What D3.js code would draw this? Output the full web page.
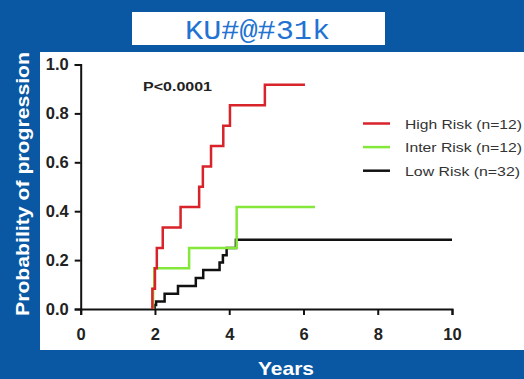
<!DOCTYPE html>
<html>
<head>
<meta charset="utf-8">
<script src="https://cdn.jsdelivr.net/npm/d3@7"></script>
<style>
  body { margin: 0; background: #0a58a3; }
  svg { display: block; }
</style>
</head>
<body>
<div id="chart"></div>
<script>
// step curves: [years, probability]
const highRisk = [[1.93, 0], [1.93, 0.083], [2.0, 0.167], [2.05, 0.25], [2.21, 0.333], [2.69, 0.417],
  [3.19, 0.5], [3.29, 0.583], [3.51, 0.667], [3.84, 0.75], [4.02, 0.833], [4.96, 0.917], [6.04, 0.917]]
const interRisk = [[1.95, 0], [1.95, 0.083], [1.98, 0.167], [2.92, 0.25], [4.2, 0.417], [6.31, 0.417]]
const lowRisk = [[1.99, 0], [1.99, 0.016], [2.03, 0.031], [2.26, 0.0625], [2.62, 0.094], [3.1, 0.127],
  [3.3, 0.16], [3.74, 0.19], [3.83, 0.22], [3.93, 0.25], [4.18, 0.283], [10, 0.283]]

const seriesNames = ['High Risk (n=12)', 'Inter Risk (n=12)', 'Low Risk (n=32)']
const seriesColors = ['#d8232a', '#84e83a', '#111111']
const xTicks = [0, 2, 4, 6, 8, 10]
const yTicks = [0, 0.2, 0.4, 0.6, 0.8, 1.0]

const width = 524
const height = 379
const font = 'Liberation Sans, Arial, sans-serif'

const svg = d3
  .select('#chart')
  .append('svg')
  .attr('width', width)
  .attr('height', height)

svg.append('rect')
  .attr('width', width)
  .attr('height', height)
  .attr('fill', '#0a58a3')

// white plot panel
svg.append('rect')
  .attr('x', 40)
  .attr('y', 52)
  .attr('width', 484)
  .attr('height', 298)
  .attr('fill', 'white')

// title box
svg.append('rect')
  .attr('x', 132)
  .attr('y', 12)
  .attr('width', 253)
  .attr('height', 33)
  .attr('fill', 'white')

svg.append('text')
  .attr('x', 185)
  .attr('y', 39)
  .attr('font-family', 'Liberation Mono, monospace')
  .attr('font-size', 28)
  .attr('textLength', 145)
  .attr('lengthAdjust', 'spacingAndGlyphs')
  .attr('fill', '#2272d2')
  .text('KU#@#31k')

const x = d3.scaleLinear().domain([0, 10]).range([80.7, 452])
const y = d3.scaleLinear().domain([0, 1]).range([309, 64.5])

const xAxis = svg.append('g')
  .attr('transform', 'translate(0,309)')
  .call(d3.axisBottom(x).tickValues(xTicks).tickSize(6).tickPadding(13).tickSizeOuter(6))
const yAxis = svg.append('g')
  .attr('transform', 'translate(80.7,0)')
  .call(d3.axisLeft(y).tickValues(yTicks).tickFormat(d3.format('.1f')).tickSize(6).tickPadding(6).tickSizeOuter(6))

;[xAxis, yAxis].forEach(g => {
  g.selectAll('path, line').attr('stroke', '#111').attr('stroke-width', 2)
  g.selectAll('text')
    .attr('font-family', font)
    .attr('font-size', 16.5)
    .attr('font-weight', 'bold')
    .attr('fill', '#222')
})

const line = d3.line()
  .x(d => x(d[0]))
  .y(d => y(d[1]))
  .curve(d3.curveStepAfter)

// draw curves (low first so red stays on top)
const allSeries = [highRisk, interRisk, lowRisk]
;[2, 1, 0].forEach(i => {
  svg.append('path')
    .datum(allSeries[i])
    .attr('d', line)
    .attr('fill', 'none')
    .attr('stroke', seriesColors[i])
    .attr('stroke-width', 2.5)
})

svg.append('text')
  .attr('x', 143)
  .attr('y', 90.5)
  .attr('font-family', font)
  .attr('font-size', 13)
  .attr('font-weight', 'bold')
  .attr('textLength', 69)
  .attr('lengthAdjust', 'spacingAndGlyphs')
  .attr('fill', '#222')
  .text('P<0.0001')

// legend
const legendWidths = [117, 117, 115]
seriesNames.forEach((name, i) => {
  const ly = 123.5 + i * 23.6
  svg.append('line')
    .attr('x1', 363)
    .attr('x2', 390)
    .attr('y1', ly)
    .attr('y2', ly)
    .attr('stroke', seriesColors[i])
    .attr('stroke-width', 2.5)
  svg.append('text')
    .attr('x', 405)
    .attr('y', ly + 5)
    .attr('font-family', font)
    .attr('font-size', 13.5)
    .attr('textLength', legendWidths[i])
    .attr('lengthAdjust', 'spacingAndGlyphs')
    .attr('fill', '#333')
    .text(name)
})

// axis titles
svg.append('text')
  .attr('transform', 'translate(29,184) rotate(-90)')
  .attr('text-anchor', 'middle')
  .attr('font-family', font)
  .attr('font-size', 19)
  .attr('font-weight', 'bold')
  .attr('textLength', 264)
  .attr('lengthAdjust', 'spacingAndGlyphs')
  .attr('fill', 'white')
  .text('Probability of progression')

svg.append('text')
  .attr('x', 286)
  .attr('y', 375)
  .attr('text-anchor', 'middle')
  .attr('font-family', font)
  .attr('font-size', 19)
  .attr('font-weight', 'bold')
  .attr('textLength', 56)
  .attr('lengthAdjust', 'spacingAndGlyphs')
  .attr('fill', 'white')
  .text('Years')
</script>
</body>
</html>
